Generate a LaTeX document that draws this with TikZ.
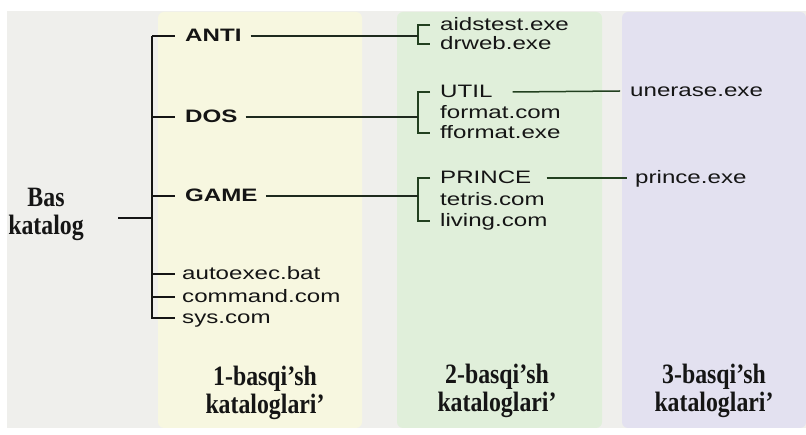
\documentclass[tikz,border=0pt]{standalone}
\usepackage{fontspec}
\setmainfont{Liberation Serif}
\newfontfamily\wsans[FakeStretch=1.34]{Liberation Sans}
\newfontfamily\wserif[FakeStretch=0.85]{Liberation Serif}
\definecolor{bggray}{HTML}{EFEFEC}
\definecolor{colyellow}{HTML}{F7F7E0}
\definecolor{colgreen}{HTML}{E0EFDA}
\definecolor{colpurple}{HTML}{E3E1F0}
\definecolor{ink}{HTML}{151515}
\definecolor{dkgreen}{HTML}{22401F}
\definecolor{dline}{HTML}{1E2A1E}
\tikzset{
  sans/.style={font=\wsans\fontsize{18}{21}\selectfont, text=ink, inner sep=0pt, anchor=west, text height=12pt, text depth=1pt},
  bsans/.style={font=\wsans\bfseries\fontsize{18}{21}\selectfont, text=ink, inner sep=0pt, anchor=west, text height=12pt, text depth=1pt},
  serifb/.style={font=\wserif\bfseries\fontsize{28}{28}\selectfont, text=ink, align=center, inner sep=0pt},
  tree/.style={line width=1.6pt, draw=ink},
  gtree/.style={line width=1.5pt, draw=dkgreen},
  link/.style={line width=1.5pt, draw=dline}
}
\begin{document}
\begin{tikzpicture}[x=1pt,y=-1pt]
\useasboundingbox (0,0) rectangle (806,435);
\fill[white] (0,0) rectangle (806,435);
\fill[bggray] (7,11) rectangle (806,428);
\fill[colyellow, rounded corners=6pt] (158,12) rectangle (362,428);
\fill[colgreen, rounded corners=6pt] (397,12) rectangle (602,428);
\fill[colpurple, rounded corners=6pt] (622,12) rectangle (806,428);

% root
\node[serifb] (root) at (46,214) {Bas\\katalog};
\coordinate (rEnd) at (118,218);
\coordinate (tMid) at (152,218);
\coordinate (tTop) at (152,36);
\coordinate (tBot) at (152,319);
\draw[tree] (rEnd) -- (tMid);
\draw[tree] (tTop) -- (tBot);

% level 1
\node[bsans] (anti) at (185,36) {ANTI};
\node[bsans] (dos) at (185,117) {DOS};
\node[bsans] (game) at (185,196) {GAME};
\node[sans] (autoexec) at (182,274) {autoexec.bat};
\node[sans] (command) at (182,297) {command.com};
\node[sans] (sys) at (182,318) {sys.com};
\foreach \n in {anti,dos,game}{\draw[tree] (\n -| tTop) -- ([xshift=-10pt]\n.west);}
\foreach \n in {autoexec,command,sys}{\draw[tree] (\n -| tTop) -- ([xshift=-7pt]\n.west);}

% level 2
\coordinate (bx) at (418,0);
\node[sans] (aid) at (440,25) {aidstest.exe};
\node[sans] (drweb) at (440,44) {drweb.exe};
\node[sans] (util) at (440,92) {UTIL};
\node[sans] (format) at (440,113) {format.com};
\node[sans] (fformat) at (440,133) {fformat.exe};
\node[sans] (prince) at (440,178) {PRINCE};
\node[sans] (tetris) at (440,200) {tetris.com};
\node[sans] (living) at (440,221) {living.com};

\draw[gtree] ([xshift=-10pt]aid.west) -- (aid -| bx) -- (drweb -| bx) -- ([xshift=-10pt]drweb.west);
\draw[gtree] ([xshift=-10pt]util.west) -- (util -| bx) -- (fformat -| bx) -- ([xshift=-10pt]fformat.west);
\draw[gtree] ([xshift=-10pt]prince.west) -- (prince -| bx) -- (living -| bx) -- ([xshift=-10pt]living.west);

\draw[link] ([xshift=9pt]anti.east) -- (anti -| bx);
\draw[link] ([xshift=8pt]dos.east) -- (dos -| bx);
\draw[link] ([xshift=8pt]game.east) -- (game -| bx);

% level 3
\node[sans] (unerase) at (630,91) {unerase.exe};
\node[sans] (princeexe) at (635,178) {prince.exe};
\draw[gtree] ([xshift=20pt]util.east) -- ([xshift=-10pt]unerase.west);
\draw[gtree] ([xshift=15pt]prince.east) -- ([xshift=-8pt]princeexe.west);

% bottom labels
\node[serifb] (l1) at (265,393) {1-basqi’sh\\kataloglari’};
\node[serifb] (l2) at (497,391) {2-basqi’sh\\kataloglari’};
\node[serifb] (l3) at (714,391) {3-basqi’sh\\kataloglari’};
\end{tikzpicture}
\end{document}
